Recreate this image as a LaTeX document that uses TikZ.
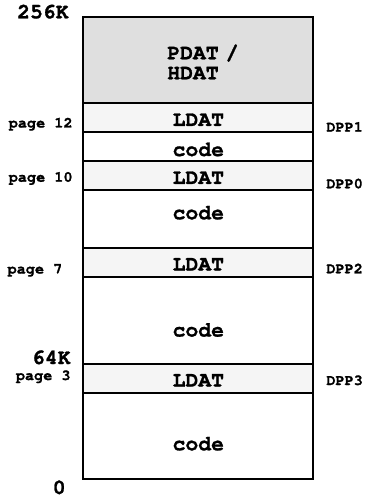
\documentclass[tikz,border=0pt]{standalone}
\usepackage{fontspec}
\setmonofont{TeX Gyre Cursor}[BoldFeatures={FakeBold=1.2}]
\usetikzlibrary{positioning}
\tikzset{
  block/.style={draw, line width=1pt, minimum width=115pt, inner sep=0pt, outer sep=0pt, font=\ttfamily\bfseries\fontsize{10.7}{10}\selectfont},
  ldat/.style={block, fill=gray!8, minimum height=14.5pt, text height=8pt, text depth=0pt},
  codeblk/.style={block, fill=white, text height=#1, text depth=0pt},
  addr/.style={inner sep=0pt, anchor=base east, font=\ttfamily\bfseries\fontsize{10.7}{12}\selectfont},
  pagelbl/.style={inner sep=0pt, anchor=base east, font=\ttfamily\bfseries\fontsize{7.6}{9}\selectfont},
  dpp/.style={inner sep=0pt, anchor=base west, font=\ttfamily\bfseries\fontsize{7.6}{9}\selectfont}
}
\begin{document}
\begin{tikzpicture}[x=0.5pt, y=-0.5pt, node distance=0pt]
\useasboundingbox (0,0) rectangle (365,497);
% memory blocks, top to bottom
\node[block, fill=gray!25, minimum height=43pt, text width=31pt, text height=9pt, text depth=10.2pt, align=left, anchor=north west] (hdat) at (83.3,17.5) {PDAT~/\\HDAT};
\node[ldat, below=of hdat] (ldat1) {LDAT};
\node[codeblk=9pt, minimum height=14.5pt, below=of ldat1] (code1) {code};
\node[ldat, below=of code1] (ldat0) {LDAT};
\node[codeblk=0pt, minimum height=28.75pt, below=of ldat0] (code0) {code};
\node[ldat, below=of code0] (ldat2) {LDAT};
\node[codeblk=16pt, minimum height=43.5pt, below=of ldat2] (code2) {code};
\node[ldat, below=of code2] (ldat3) {LDAT};
\node[codeblk=14.5pt, minimum height=42.75pt, below=of ldat3] (code3) {code};
% addresses and pages
\node[addr] (a256) at (69,18.3) {256K};
\node[addr] (a64) at (71,364) {64K};
\node[addr] (a0) at (66,494) {0};
\node[pagelbl] (p12) at (73,127.5) {page 12};
\node[pagelbl] (p10) at (73,181.7) {page 10};
\node[pagelbl] (p7) at (62.7,273.5) {page 7};
\node[pagelbl] (p3) at (71,380) {page 3};
% data page pointers
\node[dpp] (dpp1) at (326,131.7) {DPP1};
\node[dpp] (dpp0) at (326,188.3) {DPP0};
\node[dpp] (dpp2) at (326,273.3) {DPP2};
\node[dpp] (dpp3) at (326,385) {DPP3};
\end{tikzpicture}
\end{document}
